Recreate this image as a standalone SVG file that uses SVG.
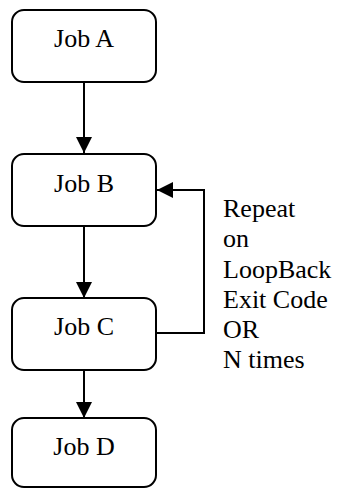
<svg xmlns="http://www.w3.org/2000/svg" width="337" height="489" viewBox="0 0 337 489">
  <style>
    .box { fill: #ffffff; stroke: #000000; stroke-width: 2; }
    .lbl { font-family: "Liberation Serif", "Times New Roman", serif; font-size: 26px; fill: #000000; }
    .edge { fill: none; stroke: #000000; stroke-width: 2; }
  </style>
  <defs>
    <marker id="arrow" viewBox="0 0 16 16" refX="16" refY="8" markerWidth="16" markerHeight="16" markerUnits="userSpaceOnUse" orient="auto">
      <path d="M0,0 L16,8 L0,16 Z" fill="#000000"/>
    </marker>
  </defs>
  <rect width="337" height="489" fill="#ffffff"/>

  <g id="connectors">
    <line class="edge" x1="84" y1="82" x2="84" y2="153" marker-end="url(#arrow)"/>
    <line class="edge" x1="84" y1="226" x2="84" y2="298" marker-end="url(#arrow)"/>
    <line class="edge" x1="84" y1="370" x2="84" y2="418" marker-end="url(#arrow)"/>
    <polyline class="edge" points="156,333 204,333 204,190 157,190" marker-end="url(#arrow)"/>
  </g>

  <g id="job-a">
    <rect class="box" x="12" y="10" width="144" height="72" rx="12"/>
    <text class="lbl" x="84" y="47" text-anchor="middle">Job A</text>
  </g>
  <g id="job-b">
    <rect class="box" x="12" y="154" width="144" height="72" rx="12"/>
    <text class="lbl" x="84" y="192" text-anchor="middle">Job B</text>
  </g>
  <g id="job-c">
    <rect class="box" x="12" y="298" width="144" height="72" rx="12"/>
    <text class="lbl" x="84" y="335" text-anchor="middle">Job C</text>
  </g>
  <g id="job-d">
    <rect class="box" x="12" y="418" width="144" height="69" rx="12"/>
    <text class="lbl" x="84" y="455" text-anchor="middle">Job D</text>
  </g>

  <g id="loop-label">
    <text class="lbl" x="223" y="217">Repeat</text>
    <text class="lbl" x="223" y="247">on</text>
    <text class="lbl" x="223" y="278">LoopBack</text>
    <text class="lbl" x="223" y="308">Exit Code</text>
    <text class="lbl" x="223" y="338">OR</text>
    <text class="lbl" x="223" y="368">N times</text>
  </g>
</svg>
